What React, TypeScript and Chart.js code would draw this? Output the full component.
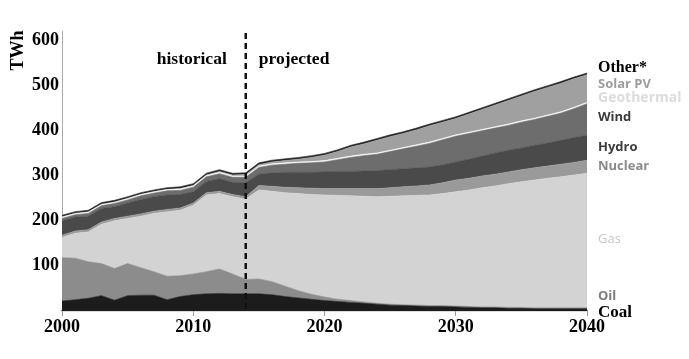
import React, { useEffect, useRef } from "react";
import { Chart, registerables } from "chart.js";
Chart.register(...registerables);

const years = [2000, 2001, 2002, 2003, 2004, 2005, 2006, 2007, 2008, 2009, 2010, 2011, 2012, 2013, 2014, 2015, 2016, 2017, 2018, 2019, 2020, 2021, 2022, 2023, 2024, 2025, 2026, 2027, 2028, 2029, 2030, 2031, 2032, 2033, 2034, 2035, 2036, 2037, 2038, 2039, 2040];

const coal = [22, 25, 28, 34, 24, 34, 35, 35, 25, 32, 36, 38, 39, 38, 38, 38, 36, 32, 29, 26, 23, 21, 19, 17, 15, 13, 12, 11, 10, 10, 9, 8, 7, 7, 6, 6, 5, 5, 5, 5, 5];
const oil = [96, 92, 81, 71, 70, 71, 61, 52, 52, 46, 46, 49, 54, 44, 32, 33, 29, 23, 16, 11, 8, 5, 4, 3, 2, 2, 2, 2, 2, 2, 2, 2, 2, 2, 2, 2, 2, 2, 2, 2, 2];
const gas = [45, 55, 66, 87, 106, 100, 114, 129, 143, 145, 152, 170, 167, 171, 178, 197, 200, 207, 215, 221, 226, 230, 232, 234, 236, 239, 241, 243, 245, 248, 253, 258, 264, 268, 274, 278, 283, 287, 290, 294, 298];
const nuclear = [5, 5, 5, 5, 5, 5, 5, 5, 5, 5, 5, 5, 5, 5, 5, 10, 11, 12, 13, 14, 14, 15, 16, 17, 18, 19, 20, 21, 22, 24, 26, 26, 26, 26, 26, 27, 27, 27, 28, 28, 29];
const hydro = [32, 31, 30, 30, 26, 29, 32, 32, 32, 30, 25, 25, 28, 27, 31, 25, 30, 33, 34, 35, 37, 37, 38, 39, 40, 40, 40, 40, 40, 40, 40, 42, 44, 47, 48, 48, 50, 51, 53, 55, 55];
const wind = [5, 5, 6, 6, 7, 7, 8, 8, 9, 9, 10, 10, 11, 11, 12, 15, 17, 18, 20, 21, 22, 27, 31, 34, 36, 40, 44, 48, 52, 55, 57, 57, 56, 55, 55, 57, 57, 59, 60, 64, 70];
const geothermal = [3, 3, 3, 3, 3, 3, 3, 3, 3, 3, 3, 3, 3, 3, 3, 3, 3, 3, 3, 3, 3, 3, 3, 3, 3, 3, 3, 3, 3, 3, 3, 3, 3, 3, 3, 3, 3, 3, 3, 3, 3];
const solarPV = [0, 0, 0, 0, 0, 0, 0, 0, 0, 1, 1, 1, 2, 2, 3, 3, 4, 5, 6, 9, 12, 15, 20, 23, 28, 30, 31, 33, 36, 36, 36, 40, 44, 48, 52, 55, 59, 61, 63, 63, 61];
const other = [4, 4, 4, 4, 4, 4, 4, 4, 4, 4, 4, 4, 4, 4, 4, 4, 4, 4, 4, 4, 4, 4, 4, 4, 4, 4, 4, 4, 4, 4, 4, 4, 4, 4, 4, 4, 4, 4, 4, 4, 4];

const seriesNames = ["Coal", "Oil", "Gas", "Nuclear", "Hydro", "Wind", "Geothermal", "Solar PV", "Other*"];
const seriesValues = [coal, oil, gas, nuclear, hydro, wind, geothermal, solarPV, other];
const seriesColors = ["#1c1c1c", "#8c8c8c", "#d3d3d3", "#9a9a9a", "#4a4a4a", "#6d6d6d", "#f4f4f4", "#a0a0a0", "#262626"];

const yTicks = [100, 200, 300, 400, 500, 600];
const xTicks = [2000, 2010, 2020, 2030, 2040];
const dividerYear = 2014;

// side labels: text, value position on y-axis, font, colour
const sideLabels = [
  { text: "Other*", at: 538, font: "bold 16px 'Liberation Serif'", color: "#000" },
  { text: "Solar PV", at: 503, font: "bold 13px 'Open Sans'", color: "#9c9c9c" },
  { text: "Geothermal", at: 471, font: "bold 14px 'Open Sans'", color: "#dcdcdc" },
  { text: "Wind", at: 429, font: "bold 13px 'Open Sans'", color: "#3c3c3c" },
  { text: "Hydro", at: 362, font: "bold 13px 'Open Sans'", color: "#3c3c3c" },
  { text: "Nuclear", at: 320, font: "bold 13px 'Open Sans'", color: "#8a8a8a" },
  { text: "Gas", at: 159, font: "13px 'Open Sans'", color: "#c8c8c8" },
  { text: "Oil", at: 33, font: "bold 13px 'Open Sans'", color: "#7e7e7e" },
  { text: "Coal", at: -4, font: "bold 17px 'Liberation Serif'", color: "#000" },
];

const SERIF = "'Liberation Serif', 'Times New Roman', serif";

const overlay = {
  id: "overlay",
  afterDatasetsDraw(chart: any) {
    const { ctx, scales, chartArea } = chart;
    const x = scales.x;
    const y = scales.y;
    ctx.save();
    // divider
    const dx = x.getPixelForValue(dividerYear);
    ctx.strokeStyle = "#111";
    ctx.lineWidth = 2.5;
    ctx.setLineDash([6, 4]);
    ctx.beginPath();
    ctx.moveTo(dx, chartArea.top + 2);
    ctx.lineTo(dx, y.getPixelForValue(0));
    ctx.stroke();
    ctx.setLineDash([]);
    // historical / projected
    ctx.fillStyle = "#000";
    ctx.font = "bold 17.5px " + SERIF;
    ctx.textBaseline = "middle";
    ctx.textAlign = "right";
    ctx.fillText("historical", dx - 19, y.getPixelForValue(556));
    ctx.textAlign = "left";
    ctx.fillText("projected", dx + 13, y.getPixelForValue(558));
    // side labels
    for (const l of sideLabels) {
      ctx.font = l.font;
      ctx.fillStyle = l.color;
      ctx.fillText(l.text, chartArea.right + 11, y.getPixelForValue(l.at));
    }
    // TWh
    ctx.save();
    ctx.translate(18, y.getPixelForValue(577));
    ctx.rotate(-Math.PI / 2);
    ctx.textAlign = "center";
    ctx.fillStyle = "#000";
    ctx.font = "bold 18px " + SERIF;
    ctx.fillText("TWh", 0, 0);
    ctx.restore();
    ctx.restore();
  },
};

export default function App() {
  const ref = useRef<HTMLCanvasElement | null>(null);
  useEffect(() => {
    if (!ref.current) return;
    const datasets = seriesNames.map((name, i) => ({
      label: name,
      data: years.map((yr, j) => ({ x: yr, y: seriesValues[i][j] })),
      backgroundColor: seriesColors[i],
      borderColor: seriesColors[i],
      borderWidth: 0.6,
      pointRadius: 0,
      tension: 0,
      fill: i === 0 ? "origin" : "-1",
    }));
    const chart = new Chart(ref.current, {
      type: "line",
      data: { datasets },
      plugins: [overlay],
      options: {
        animation: false,
        responsive: false,
        layout: { padding: { left: 0, right: 102, top: 31, bottom: 0 } },
        plugins: { legend: { display: false }, tooltip: { enabled: false } },
        scales: {
          x: {
            type: "linear",
            min: 2000,
            max: 2040,
            afterBuildTicks: (s: any) => {
              s.ticks = xTicks.map((v) => ({ value: v }));
            },
            afterFit: (s: any) => {
              s.height = 48;
            },
            grid: { display: true, drawOnChartArea: false, tickLength: 5, color: "#999" },
            border: { display: true, color: "#777", width: 1.2 },
            ticks: {
              color: "#000",
              padding: 1,
              font: { family: SERIF, weight: "bold", size: 18 },
              callback: (v: any) => String(v),
            },
          },
          y: {
            stacked: true,
            min: 0,
            max: 620,
            afterBuildTicks: (s: any) => {
              s.ticks = yTicks.map((v) => ({ value: v }));
            },
            afterFit: (s: any) => {
              s.width = 62;
            },
            grid: { display: false, drawTicks: false },
            border: { display: true, color: "#aaa", width: 1 },
            ticks: {
              color: "#000",
              padding: 3,
              font: { family: SERIF, weight: "bold", size: 18 },
            },
          },
        },
      },
    });
    return () => chart.destroy();
  }, []);
  return (
    <div style={{ position: "absolute", left: 0, top: 0, width: 689, height: 359, background: "#fff" }}>
      <canvas ref={ref} width={689} height={359} style={{ display: "block" }} />
    </div>
  );
}
